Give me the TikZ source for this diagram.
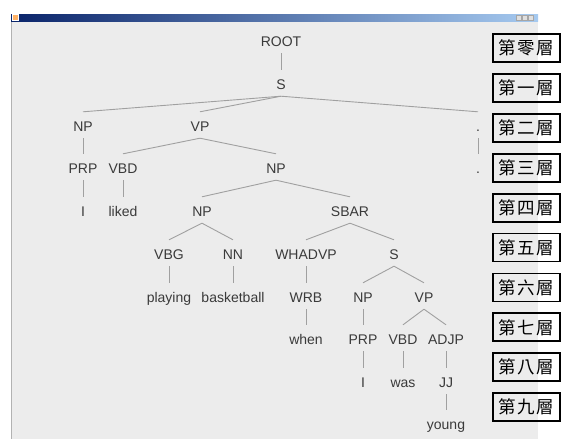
\documentclass[tikz,border=0pt]{standalone}
\usepackage{fontspec}
\setmainfont{Liberation Sans}
\newfontfamily\cjk{Noto Sans CJK TC}
\definecolor{winbg}{RGB}{236,236,236}
\definecolor{txtgray}{RGB}{58,58,58}
\definecolor{edgegray}{RGB}{160,160,160}
\definecolor{navy}{RGB}{10,36,106}
\definecolor{lightblue}{RGB}{166,202,240}
\begin{document}
\begin{tikzpicture}[x=1pt,y=-1pt,
  lbl/.style={font=\fontsize{14}{15}\selectfont, text=txtgray, inner sep=0pt, text height=10pt, text depth=0pt},
  edge/.style={draw=edgegray, line width=0.9pt},
  layer/.style={draw=black, line width=1.8pt, minimum width=67pt, minimum height=28pt, inner sep=0pt, font=\cjk\fontsize{17.5}{18}\selectfont}]
\useasboundingbox (0,0) rectangle (563,439);
\fill[white] (0,0) rectangle (563,439);
\fill[winbg] (11,21) rectangle (538,439);
\draw[gray!60, line width=0.5pt] (11,21) -- (11,439);
\shade[left color=navy, right color=lightblue] (11,14) rectangle (538,21);
\fill[orange!60!white, draw=white, line width=0.4pt] (12,14.6) rectangle (18.5,20.4);
\foreach \bx in {516.5,522,528} {
  \fill[gray!25, draw=gray!70, line width=0.3pt] (\bx,15) rectangle (\bx+5,20);
}

\node[lbl] (root) at (281,41) {ROOT};
\node[lbl] (s) at (281,84) {S};
\node[lbl] (np1) at (83,126) {NP};
\node[lbl] (vp1) at (200,126) {VP};
\node[lbl] (dot1) at (478,126) {.};
\node[lbl] (prp1) at (83,168) {PRP};
\node[lbl] (vbd1) at (123,168) {VBD};
\node[lbl] (np2) at (276,168) {NP};
\node[lbl] (dot2) at (478,168) {.};
\node[lbl] (i1) at (83,211) {I};
\node[lbl] (liked) at (123,211) {liked};
\node[lbl] (np3) at (202,211) {NP};
\node[lbl] (sbar) at (350,211) {SBAR};
\node[lbl] (vbg) at (169,254) {VBG};
\node[lbl] (nn) at (233,254) {NN};
\node[lbl] (whadvp) at (306,254) {WHADVP};
\node[lbl] (s2) at (394,254) {S};
\node[lbl] (playing) at (169,297) {playing};
\node[lbl] (basketball) at (233,297) {basketball};
\node[lbl] (wrb) at (306,297) {WRB};
\node[lbl] (np4) at (363,297) {NP};
\node[lbl] (vp2) at (424,297) {VP};
\node[lbl] (when) at (306,339) {when};
\node[lbl] (prp2) at (363,339) {PRP};
\node[lbl] (vbd2) at (403,339) {VBD};
\node[lbl] (adjp) at (446,339) {ADJP};
\node[lbl] (i2) at (363,382) {I};
\node[lbl] (was) at (403,382) {was};
\node[lbl] (jj) at (446,382) {JJ};
\node[lbl] (young) at (446,424) {young};

\foreach \p/\c in {root/s, s/np1, s/vp1, s/dot1, np1/prp1, vp1/vbd1, vp1/np2, dot1/dot2,
  prp1/i1, vbd1/liked, np2/np3, np2/sbar, np3/vbg, np3/nn, sbar/whadvp, sbar/s2,
  vbg/playing, nn/basketball, whadvp/wrb, s2/np4, s2/vp2, wrb/when, np4/prp2,
  vp2/vbd2, vp2/adjp, prp2/i2, vbd2/was, adjp/jj, jj/young} {
  \draw[edge] ([yshift=-7pt]\p.south) -- ([yshift=9pt]\c.north);
}

\foreach \n/\t [count=\k from 0] in {L0/零, L1/一, L2/二, L3/三, L4/四, L5/五, L6/六, L7/七, L8/八, L9/九} {
  \node[layer] (\n) at (526.5, 48+39.9*\k) {第\hspace{1.5pt}\t\hspace{1.5pt}層};
}
\end{tikzpicture}
\end{document}
